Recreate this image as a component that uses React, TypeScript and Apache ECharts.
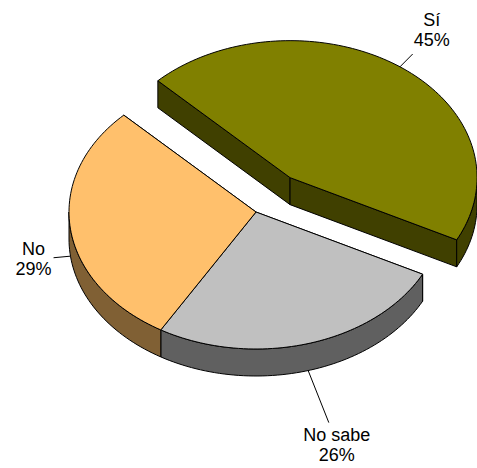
import React, { useEffect, useRef } from 'react';
import * as echarts from 'echarts';

// ---- data ----
const categories: string[] = ['Sí', 'No sabe', 'No'];
const values: number[] = [45, 26, 29];

// ---- styling ----
const topColors: string[] = ['#808000', '#C0C0C0', '#FFC06C'];
const sideColors: string[] = ['#404000', '#606060', '#806034'];
const explodeFactor: number[] = [0.31, 0, 0];
const leaderLength: number[] = [18, 56, 17];

const CX = 256;
const CY = 212;
const RX = 187;
const RY = 137;
const DEPTH = 27;
const START_ANGLE = 225; // screen degrees, clockwise from east
const FONT = '"Liberation Sans", Arial, sans-serif';

const rad = (d: number) => (d * Math.PI) / 180;

export default function App() {
  const ref = useRef<HTMLDivElement>(null);

  useEffect(() => {
    const chart = echarts.init(ref.current!, null, { renderer: 'svg' });
    const total = values.reduce((a, b) => a + b, 0);
    let acc = 0;
    const data = values.map((v, i) => {
      const s = acc;
      acc += v;
      return [s, v, i];
    });

    const rimPt = (cx: number, cy: number, deg: number, dy = 0): number[] => [
      cx + RX * Math.cos(rad(deg)),
      cy + RY * Math.sin(rad(deg)) + dy,
    ];
    const arcPts = (cx: number, cy: number, a1: number, a2: number, dy: number) => {
      const n = Math.max(2, Math.ceil(Math.abs(a2 - a1) / 1.5));
      const pts: number[][] = [];
      for (let k = 0; k <= n; k++) {
        pts.push(rimPt(cx, cy, a1 + ((a2 - a1) * k) / n, dy));
      }
      return pts;
    };

    const renderItem = (params: any, api: any) => {
      const start = api.value(0) as number;
      const val = api.value(1) as number;
      const idx = api.value(2) as number;
      const a1 = START_ANGLE + (start / total) * 360;
      const a2 = a1 + (val / total) * 360;
      const mid = (a1 + a2) / 2;
      const ex = explodeFactor[idx];
      const cx = CX + ex * RX * Math.cos(rad(mid));
      const cy = CY + ex * RY * Math.sin(rad(mid));
      const back = Math.sin(rad(mid)) < 0;
      const base = back ? 0 : 10;
      const side = sideColors[idx];
      const top = topColors[idx];
      const strokeStyle = { stroke: '#000', lineWidth: 1, lineJoin: 'round' };
      const children: any[] = [];

      // radial cut faces
      [a1, a2].forEach((a) => {
        const p = rimPt(cx, cy, a);
        children.push({
          type: 'polygon',
          z2: base + 1,
          shape: { points: [[cx, cy], p, [p[0], p[1] + DEPTH], [cx, cy + DEPTH]] },
          style: { fill: side, ...strokeStyle },
        });
      });

      // outer curved side (front half only)
      for (let k = -1; k <= 2; k++) {
        const lo = Math.max(a1, 360 * k);
        const hi = Math.min(a2, 360 * k + 180);
        if (hi > lo) {
          const upper = arcPts(cx, cy, lo, hi, 0);
          const lower = arcPts(cx, cy, hi, lo, DEPTH);
          children.push({
            type: 'polygon',
            z2: base + 2,
            shape: { points: upper.concat(lower) },
            style: { fill: side, ...strokeStyle },
          });
        }
      }

      // top face
      children.push({
        type: 'polygon',
        z2: base + 3,
        shape: { points: [[cx, cy]].concat(arcPts(cx, cy, a1, a2, 0)) },
        style: { fill: top, ...strokeStyle },
      });

      // leader line
      const s = rimPt(cx, cy, mid, back ? 0 : DEPTH);
      const dx = RX * Math.cos(rad(mid));
      const dy = RY * Math.sin(rad(mid));
      const len = Math.sqrt(dx * dx + dy * dy);
      const ux = dx / len;
      const uy = dy / len;
      const e = [s[0] + ux * leaderLength[idx], s[1] + uy * leaderLength[idx]];
      children.push({
        type: 'line',
        z2: 30,
        shape: { x1: s[0], y1: s[1], x2: e[0], y2: e[1] },
        style: { stroke: '#000', lineWidth: 1 },
      });

      // label
      let tx = e[0];
      let ty = e[1];
      let va = 'middle';
      if (Math.abs(ux) > 0.6) {
        tx = e[0] + (ux > 0 ? 19 : -20);
        if (uy < -0.4) {
          va = 'bottom';
          ty = e[1] - 4;
        } else if (uy > 0.4) {
          va = 'top';
          ty = e[1] + 2;
        } else {
          ty = e[1] + 1;
        }
      } else {
        tx = e[0] + 8;
        if (uy > 0) {
          va = 'top';
          ty = e[1] + 2;
        } else {
          va = 'bottom';
          ty = e[1] - 2;
        }
      }
      const pct = Math.round((val / total) * 100) + '%';
      children.push({
        type: 'text',
        z2: 31,
        x: tx,
        y: ty,
        style: {
          text: categories[idx] + '\n' + pct,
          fill: '#000',
          fontSize: 18,
          fontFamily: FONT,
          lineHeight: 20,
          align: 'center',
          verticalAlign: va,
        },
      });

      return { type: 'group', children };
    };

    chart.setOption({
      animation: false,
      backgroundColor: '#ffffff',
      series: [
        {
          type: 'custom',
          coordinateSystem: 'none',
          renderItem,
          data,
          silent: true,
        },
      ],
    });

    return () => chart.dispose();
  }, []);

  return (
    <div
      ref={ref}
      style={{ position: 'fixed', left: 0, top: 0, width: 477, height: 468, background: '#fff' }}
    />
  );
}
